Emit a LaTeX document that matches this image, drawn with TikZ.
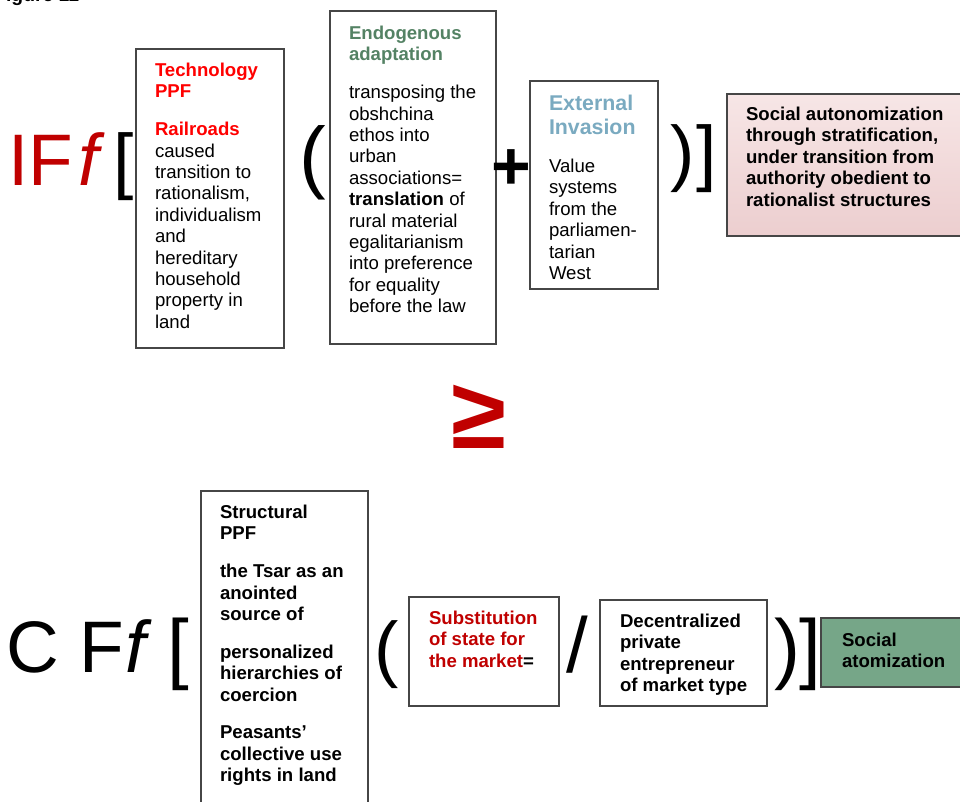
\documentclass[tikz,border=0pt]{standalone}
\usepackage{fontspec}
\setmainfont{Liberation Sans}
\usetikzlibrary{fit,shadings}

\definecolor{darkred}{RGB}{192,0,0}
\definecolor{brightred}{RGB}{255,0,0}
\definecolor{endogreen}{RGB}{84,130,100}
\definecolor{invblue}{RGB}{122,170,192}
\definecolor{boxgray}{RGB}{70,70,70}
\definecolor{pinktop}{RGB}{247,230,230}
\definecolor{pinkbot}{RGB}{236,206,207}
\definecolor{atomgreen}{RGB}{118,166,136}

\newcommand\redhead[1]{\textbf{\textcolor{brightred}{#1}}}

\tikzset{
  box/.style={draw=boxgray, line width=0.8pt, inner sep=0pt, outer sep=0pt},
  txt/.style={inner sep=0pt, outer sep=0pt, anchor=north west, align=left,
    font=\fontsize{13.95}{16.05}\selectfont},
  txtb/.style={txt, font=\fontsize{13.95}{16.05}\selectfont\bfseries},
  glyph/.style={inner sep=0pt, outer sep=0pt, anchor=base},
  bigtop/.style={glyph, font=\fontsize{54.75}{60}\selectfont},
  bigbot/.style={glyph, font=\fontsize{58.5}{64}\selectfont}
}

\begin{document}
\begin{tikzpicture}[x=0.75pt,y=-0.75pt]
\useasboundingbox (0,0) rectangle (960,801);

% caption line, cut by the top edge
\node[inner sep=0pt, anchor=base west, font=\fontsize{14.5}{16}\selectfont\bfseries]
  (caption) at (-6,1.5) {Figure 11};

% ---------- upper formula ----------
\node[bigtop, text=darkred] (IF) at (41,185) {IF};
\node[glyph, text=darkred, font=\fontsize{54.75}{60}\selectfont\itshape] (fI) at (89,185) {f};
\node[bigtop] (lbrI) at (123.6,185) {[};

\node[box, fit={(136,49)(284,348)}] (tech) {};
\node[txt] (techtxt) at (155,63) {\redhead{Technology}\\\redhead{PPF}\\[12.3pt]
  \redhead{Railroads}\\caused\\transition to\\rationalism,\\individualism\\and\\hereditary\\household\\property in\\land};

\node[glyph, font=\fontsize{60}{66}\selectfont] (lpI) at (313,183) {(};

\node[box, fit={(330,11)(496,344)}] (endo) {};
\node[txt] (endotxt) at (349,26) {\textbf{\textcolor{endogreen}{Endogenous}}\\\textbf{\textcolor{endogreen}{adaptation}}\\[12.3pt]
  transposing the\\obshchina\\ethos into\\urban\\associations=\\\textbf{translation} of\\rural material\\egalitarianism\\into preference\\for equality\\before the law};

\node[inner sep=0pt, outer sep=0pt, font=\fontsize{51}{56}\selectfont\bfseries] (plus) at (511.7,170) {+};

\node[box, fit={(530,81)(658,289)}] (inv) {};
\node[txt, font=\fontsize{16}{18}\selectfont\bfseries, text=invblue] (invhead) at (549,95) {External\\Invasion};
\node[txt] (invtxt) at (549,159) {Value\\systems\\from the\\parliamen-\\tarian\\West};

\node[bigtop] (rpI) at (683,177) {)};
\node[bigtop] (rbrI) at (707,177) {]};

\node[box, fit={(727,94)(966,236)}, top color=pinktop, bottom color=pinkbot, draw=boxgray] (auton) {};
\node[txtb] (autontxt) at (746,107) {Social autonomization\\through stratification,\\under transition from\\authority obedient to\\rationalist structures};

% ---------- comparison sign ----------
\node[inner sep=0pt, outer sep=0pt, text=darkred, font=\fontsize{75}{80}\selectfont\bfseries] (geq) at (479,417) {≥};

% ---------- lower formula ----------
\node[bigtop] (C) at (33,672) {C};
\node[bigtop] (F) at (102,672) {F};
\node[glyph, font=\fontsize{54.75}{60}\selectfont\itshape] (fII) at (136,672) {f};
\node[bigbot] (lbrII) at (178,674) {[};

\node[box, fit={(201,491)(368,806)}] (struct) {};
\node[txtb] (structtxt) at (220,505) {Structural\\PPF\\[12.3pt]
  the Tsar as an\\anointed\\source of\\[12.3pt]
  personalized\\hierarchies of\\coercion\\[12.3pt]
  Peasants’\\collective use\\rights in land};

\node[bigtop] (lpII) at (387,673) {(};

\node[box, fit={(409,597)(559,706)}] (subst) {};
\node[txtb, text=darkred] (substtxt) at (429,611) {Substitution\\of state for\\the market\textcolor{black}{=}};

\node[bigbot] (slash) at (577,672) {/};

\node[box, fit={(600,600)(767,706)}] (entre) {};
\node[txtb] (entretxt) at (620,614) {Decentralized\\private\\entrepreneur\\of market type};

\node[bigbot] (rpII) at (787,674) {)};
\node[bigbot] (rbrII) at (810,674) {]};

\node[box, fit={(821,618)(966,687)}, fill=atomgreen] (atom) {};
\node[txtb] (atomtxt) at (842,633) {Social\\atomization};

\end{tikzpicture}
\end{document}
